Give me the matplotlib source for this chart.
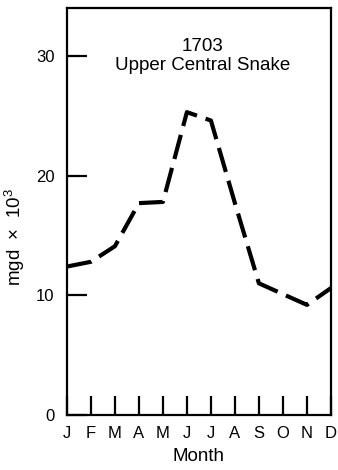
import matplotlib
matplotlib.use("Agg")
import matplotlib.pyplot as plt

plt.rcParams['font.family'] = ['Liberation Sans', 'DejaVu Sans']
plt.rcParams['mathtext.fontset'] = 'custom'
plt.rcParams['mathtext.rm'] = 'Liberation Sans'
plt.rcParams['mathtext.it'] = 'Liberation Sans:italic'

# data
months = ["J", "F", "M", "A", "M", "J", "J", "A", "S", "O", "N", "D"]
demand = [12.4, 12.8, 14.1, 17.7, 17.8, 25.3, 24.6, 17.7, 11.0, 10.1, 9.2, 10.6]
yticks = [0, 10, 20, 30]

fig = plt.figure(figsize=(3.38, 4.70), dpi=100)
ax = fig.add_axes([0.198, 0.117, 0.781, 0.866])

x = list(range(len(months)))
ax.plot(x, demand, color="black", lw=3.0, dashes=(6.0, 2.2),
        dash_capstyle="butt", solid_joinstyle="round", clip_on=False)

ax.set_xlim(0, len(months) - 1)
ax.set_ylim(0, 34)
ax.set_xticks(x)
ax.set_xticklabels(months)
ax.set_yticks(yticks)

for s in ax.spines.values():
    s.set_linewidth(1.6)

ax.tick_params(axis="y", direction="in", length=14.5, width=1.6,
               pad=9, labelsize=12)
ax.tick_params(axis="x", direction="in", length=14, width=1.6,
               pad=8, labelsize=12)

ax.text(0.515, 0.882, "1703\nUpper Central Snake", transform=ax.transAxes,
        ha="center", va="center", fontsize=13.5, linespacing=1.2)

ax.set_xlabel("Month", fontsize=13.5, labelpad=5)
ax.set_ylabel("mgd  ×  10$^3$", fontsize=13.5)
ax.yaxis.set_label_coords(-0.15, 0.437)

fig.savefig("out.png", dpi=100)
